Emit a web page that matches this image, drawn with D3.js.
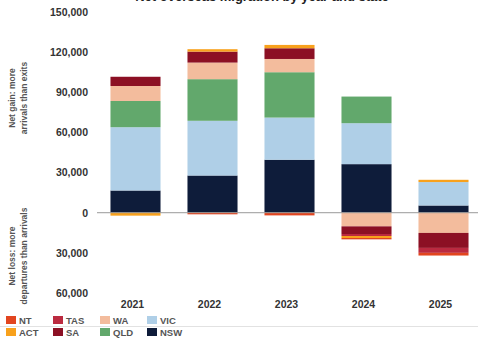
<!DOCTYPE html>
<html>
<head>
<meta charset="utf-8">
<script src="https://cdn.jsdelivr.net/npm/d3@7"></script>
<style>
  body { margin: 0; background: #fff; }
  svg { display: block; font-family: "Liberation Sans", Arial, sans-serif; }
</style>
</head>
<body>
<svg id="chart" width="478" height="341"></svg>
<script>
// Net migration by state, people per year (positive = gain, negative = loss)
const years = ["2021", "2022", "2023", "2024", "2025"];
const states = ["NSW", "VIC", "QLD", "WA", "SA", "TAS", "ACT", "NT"];
const NSW = [16600, 27800, 39600, 36300, 5400];
const VIC = [47300, 40900, 31500, 30600, 17500];
const QLD = [19600, 31100, 33900, 19900, 0];
const WA  = [11200, 12400, 9900, -10200, -15100];
const SA  = [6900, 8200, 8000, -5700, -11200];
const TAS = [0, 0, 0, -1500, -3700];
const ACT = [-2200, 1800, 2500, -1500, 1700];
const NT  = [0, -1200, -2000, -1000, -2000];
const yTicks = [-60000, -30000, 0, 30000, 60000, 90000, 120000, 150000];
const legendRows = [["NT", "TAS", "WA", "VIC"], ["ACT", "SA", "QLD", "NSW"]];

const seriesValues = { NSW, VIC, QLD, WA, SA, TAS, ACT, NT };
const colors = {
  NSW: "#0e1c3a", VIC: "#afcfe7", QLD: "#62a86c", WA: "#f3bc9d",
  SA: "#8c1024", TAS: "#bb2a40", ACT: "#f8a11c", NT: "#e2451f"
};

const rows = years.map((yr, i) => {
  const r = { year: yr };
  states.forEach(s => { r[s] = seriesValues[s][i]; });
  return r;
});

const svg = d3.select("#chart");
const W = 478;

const x = d3.scaleBand().domain(years).range([97, 482])
  .paddingInner(0.35).paddingOuter(0.175);
const y = d3.scaleLinear().domain([-60000, 150000]).range([293, 12]);

// faint rule behind the legend
svg.append("line")
  .attr("x1", 0).attr("x2", W).attr("y1", 326.5).attr("y2", 326.5)
  .attr("stroke", "#e2e2e2").attr("stroke-width", 1);

// title (sits against the top edge)
svg.append("text")
  .attr("x", 262).attr("y", 1)
  .attr("text-anchor", "middle")
  .attr("font-size", 13).attr("font-weight", "bold").attr("fill", "#222")
  .text("Net overseas migration by year and state");

// y axis labels (magnitudes)
const yAxis = d3.axisLeft(y).tickValues(yTicks)
  .tickFormat(d => d3.format(",")(Math.abs(d))).tickSize(0).tickPadding(0);
const ya = svg.append("g").attr("transform", "translate(88,0)").call(yAxis);
ya.select(".domain").remove();
ya.selectAll("text")
  .attr("font-size", 10.5).attr("font-weight", "bold").attr("fill", "#333")
  .attr("font-family", "'Liberation Sans', Arial, sans-serif");

// side captions
const side = [
  { lines: ["Net gain: more", "arrivals than exits"], cy: 98 },
  { lines: ["Net loss: more", "departures than arrivals"], cy: 256 }
];
side.forEach(s => {
  const t = svg.append("text")
    .attr("transform", `translate(0,${s.cy}) rotate(-90)`)
    .attr("text-anchor", "middle")
    .attr("font-size", 8.5).attr("font-weight", "bold").attr("fill", "#555");
  s.lines.forEach((ln, i) => {
    t.append("tspan").attr("x", 0).attr("y", 15 + i * 12).text(ln);
  });
});

// stacked bars
const stacked = d3.stack().keys(states).offset(d3.stackOffsetDiverging)(rows);
svg.append("g").selectAll("g").data(stacked).join("g")
  .attr("fill", d => colors[d.key])
  .selectAll("rect").data(d => d).join("rect")
  .attr("x", d => x(d.data.year))
  .attr("width", x.bandwidth())
  .attr("y", d => y(Math.max(d[0], d[1])))
  .attr("height", d => Math.abs(y(d[0]) - y(d[1])));

// zero line
svg.append("line")
  .attr("x1", 97).attr("x2", W).attr("y1", y(0)).attr("y2", y(0))
  .attr("stroke", "#9a9a9a").attr("stroke-width", 1);

// x axis labels
const xAxis = d3.axisBottom(x).tickSize(0).tickPadding(0);
const xa = svg.append("g").attr("transform", "translate(-3,301)").call(xAxis);
xa.select(".domain").remove();
xa.selectAll("text")
  .attr("font-size", 10.5).attr("font-weight", "bold").attr("fill", "#333")
  .attr("font-family", "'Liberation Sans', Arial, sans-serif");

// legend
const leg = svg.append("g");
legendRows.forEach((row, ri) => {
  row.forEach((k, ci) => {
    const gx = 6 + ci * 47, gy = 316 + ri * 12;
    leg.append("rect").attr("x", gx).attr("y", gy)
      .attr("width", 10).attr("height", 8).attr("fill", colors[k]);
    leg.append("text").attr("x", gx + 13).attr("y", gy + 7.5)
      .attr("font-size", 9.5).attr("font-weight", "bold").attr("fill", "#555")
      .text(k);
  });
});
</script>
</body>
</html>
